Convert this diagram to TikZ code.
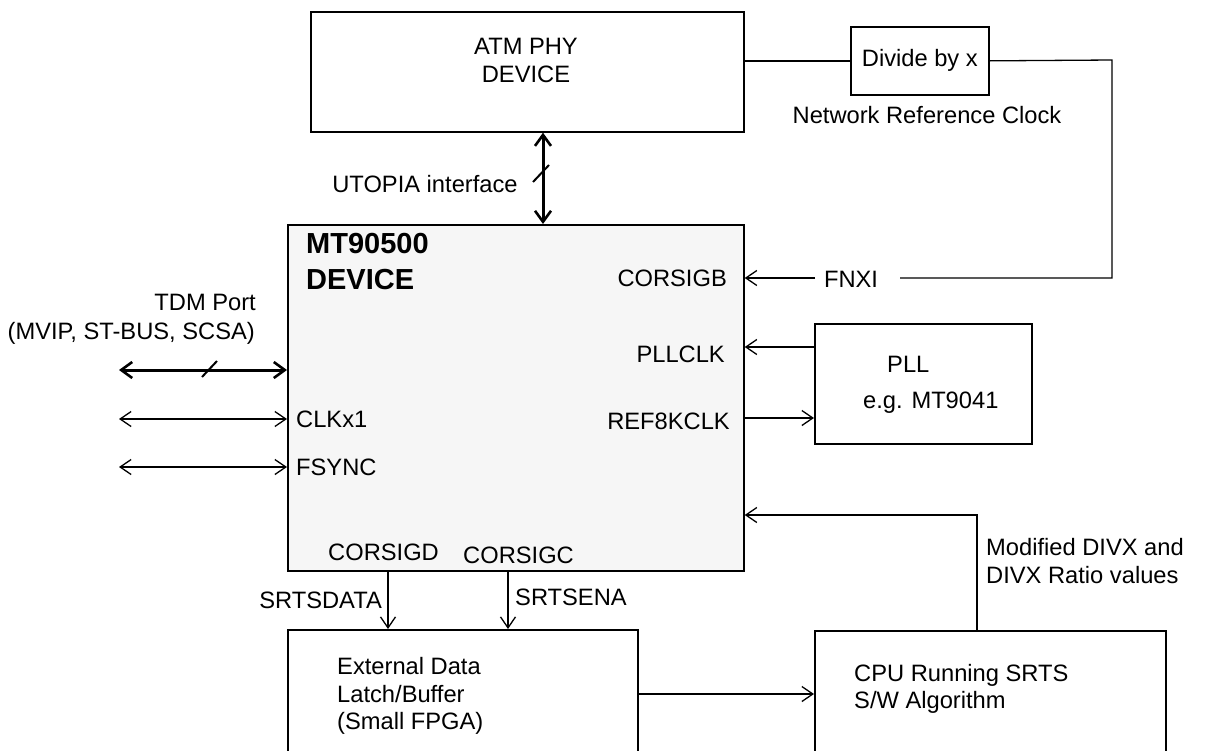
\documentclass[tikz,border=0pt]{standalone}
\usepackage{fontspec}
\setmainfont{Liberation Sans}
\usetikzlibrary{arrows.meta}
\definecolor{mtfill}{HTML}{F6F6F6}
\begin{document}
\begin{tikzpicture}[x=1pt,y=-1pt,
  box/.style={draw, line width=1.7pt, anchor=north west, inner sep=0pt},
  lbl/.style={font=\fontsize{23.7}{27.5}\selectfont, inner sep=0pt},
  big/.style={font=\fontsize{29}{37}\selectfont\bfseries, inner sep=0pt, anchor=base west},
  wire/.style={line width=1.3pt},
  arr/.style={line width=1.3pt, -{Straight Barb[length=11pt,width=15pt,line width=1.3pt]}},
  bi/.style={line width=1.3pt, {Straight Barb[length=11pt,width=15pt,line width=1.3pt]}-{Straight Barb[length=11pt,width=15pt,line width=1.3pt]}},
  tbi/.style={line width=3pt, {Straight Barb[length=11pt,width=16pt,line width=2.6pt]}-{Straight Barb[length=11pt,width=16pt,line width=2.6pt]}},
  slash/.style={line width=2pt}
]
\useasboundingbox (0,0) rectangle (1212,750);
\clip (0,0) rectangle (1212,750);

% boxes
\node[box, minimum width=433pt, minimum height=120pt] (atm) at (310,11) {};
\node[box, minimum width=138pt, minimum height=68pt, font=\fontsize{23.7}{27.5}\selectfont] (div) at (850,26) {Divide by x};
\node[box, fill=mtfill, minimum width=456pt, minimum height=346pt] (mt) at (287,224) {};
\node[box, minimum width=217pt, minimum height=120pt] (pll) at (814,323) {};
\node[box, minimum width=350pt, minimum height=150pt] (latch) at (287,629) {};
\node[box, minimum width=351pt, minimum height=150pt] (cpu) at (814,630) {};

% texts
\node[lbl, anchor=base] (atm1) at (526,54.5) {ATM PHY};
\node[lbl, anchor=base] (atm2) at (526,82.5) {DEVICE};
\node[lbl, anchor=base] (utopia) at (425,192) {UTOPIA interface};
\node[lbl, anchor=base] (nrc) at (927,123) {Network Reference Clock};
\node[lbl, anchor=base] (fnxi) at (851,287) {FNXI};
\node[big] (mt1) at (306,253) {MT90500};
\node[big] (mt2) at (306,289) {DEVICE};
\node[lbl, anchor=base east] (corb) at (727,286) {CORSIGB};
\node[lbl, anchor=base east] (pllclk) at (725,362) {PLLCLK};
\node[lbl, anchor=base east] (ref8) at (730,429) {REF8KCLK};
\node[lbl, anchor=base west] (clkx1) at (296,427.5) {CLKx1};
\node[lbl, anchor=base west] (fsync) at (296,475.5) {FSYNC};
\node[lbl, anchor=base east] (tdm1) at (256,310) {TDM Port};
\node[lbl, anchor=base east] (tdm2) at (255,339) {(MVIP, ST-BUS, SCSA)};
\node[lbl, anchor=base west] (cord) at (328,560) {CORSIGD};
\node[lbl, anchor=base west] (corc) at (463,563) {CORSIGC};
\node[lbl, anchor=base east] (srtsd) at (382,608) {SRTSDATA};
\node[lbl, anchor=base west] (srtse) at (515,605) {SRTSENA};
\node[lbl, anchor=base west] (ext1) at (337,674) {External Data};
\node[lbl, anchor=base west] (ext2) at (337,702) {Latch/Buffer};
\node[lbl, anchor=base west] (ext3) at (337,729) {(Small FPGA)};
\node[lbl, anchor=base west] (pll1) at (887,372) {PLL};
\node[lbl, anchor=base west] (pll2) at (863,408) {e.g. MT9041};
\node[lbl, anchor=base west] (mod1) at (986,555) {Modified DIVX and};
\node[lbl, anchor=base west] (mod2) at (986,583) {DIVX Ratio values};
\node[lbl, anchor=base west] (cpu1) at (854,681) {CPU Running SRTS};
\node[lbl, anchor=base west] (cpu2) at (854,708) {S/W Algorithm};

% helper coordinates
\coordinate (ux) at (543,0);
\coordinate (nr1) at (1112,60);
\coordinate (nr2) at (1112,278);
\coordinate (fnR) at (900,278);
\coordinate (fnL) at (815,278);
\coordinate (pc) at (0,347);
\coordinate (rc) at (0,418);
\coordinate (fb1) at (977,0);
\coordinate (fb2) at (977,515);
\coordinate (lc) at (0,694);
\coordinate (sd) at (388,0);
\coordinate (se) at (508,0);
\coordinate (tdmL) at (119,370);
\coordinate (clkL) at (119,419);
\coordinate (fsL) at (119,467);

% connectors
\draw[tbi] (atm.south -| ux) -- (mt.north -| ux);
\draw[slash] (533,182) -- (549,165);
\draw[wire] (atm.east |- div.west) -- (div.west);
\draw[wire] (div.east) -- (nr1) -- (nr2) -- (fnR);
\draw[arr] (fnL) -- (mt.east |- fnL);
\draw[arr] (pll.west |- pc) -- (mt.east |- pc);
\draw[arr] (mt.east |- rc) -- (pll.west |- rc);
\draw[arr] (cpu.north -| fb1) -- (fb2) -- (mt.east |- fb2);
\draw[arr] (latch.east |- lc) -- (cpu.west |- lc);
\draw[arr] (mt.south -| sd) -- (latch.north -| sd);
\draw[arr] (mt.south -| se) -- (latch.north -| se);
\draw[tbi] (tdmL) -- (mt.west |- tdmL);
\draw[slash] (202,377) -- (217,361);
\draw[bi] (clkL) -- (mt.west |- clkL);
\draw[bi] (fsL) -- (mt.west |- fsL);
\end{tikzpicture}
\end{document}
